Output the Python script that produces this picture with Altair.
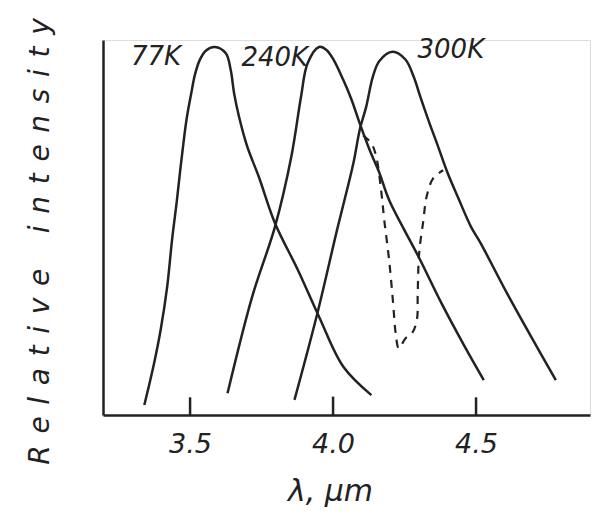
import altair as alt
import pandas as pd

# 77 K
x77 = [3.340, 3.374, 3.397, 3.420, 3.437, 3.454, 3.466, 3.477, 3.488, 3.505, 3.517, 3.534, 3.555, 3.586, 3.625, 3.642, 3.654, 3.671, 3.700, 3.740, 3.797, 3.877, 3.951, 4.036, 4.134]
y77 = [0.027, 0.140, 0.231, 0.349, 0.476, 0.584, 0.668, 0.740, 0.805, 0.878, 0.925, 0.965, 0.990, 1.000, 0.983, 0.938, 0.874, 0.811, 0.729, 0.648, 0.521, 0.394, 0.267, 0.131, 0.054]
# 240 K
x240 = [3.631, 3.717, 3.797, 3.854, 3.888, 3.911, 3.951, 3.977, 4.002, 4.036, 4.065, 4.093, 4.128, 4.162, 4.196, 4.299, 4.379, 4.459, 4.527]
y240 = [0.059, 0.321, 0.512, 0.702, 0.865, 0.956, 1.000, 0.992, 0.965, 0.910, 0.856, 0.793, 0.720, 0.658, 0.584, 0.430, 0.304, 0.188, 0.095]
# 300 K
x300 = [3.865, 3.945, 4.014, 4.071, 4.093, 4.116, 4.139, 4.162, 4.208, 4.253, 4.282, 4.305, 4.333, 4.367, 4.401, 4.436, 4.482, 4.516, 4.608, 4.699, 4.779]
y300 = [0.041, 0.276, 0.503, 0.684, 0.774, 0.838, 0.919, 0.962, 0.987, 0.966, 0.919, 0.865, 0.802, 0.730, 0.657, 0.593, 0.512, 0.467, 0.331, 0.204, 0.095]
# dashed (absorption dip)
xd = [4.105, 4.134, 4.151, 4.168, 4.179, 4.196, 4.210, 4.219, 4.230, 4.253, 4.276, 4.293, 4.296, 4.301, 4.316, 4.327, 4.350, 4.385]
yd = [0.760, 0.738, 0.702, 0.611, 0.530, 0.421, 0.304, 0.222, 0.181, 0.208, 0.222, 0.258, 0.331, 0.439, 0.530, 0.593, 0.643, 0.665]

label_text = ["77K", "240K", "300K"]
label_x = [3.381, 3.796, 4.412]
label_y = [0.973, 0.970, 0.992]

tick_vals = [3.5, 4.0, 4.5]
tick_top = [0.048, 0.050, 0.048]

rows = []
for name, xs_, ys_ in [("77K", x77, y77), ("240K", x240, y240), ("300K", x300, y300)]:
    for a, b in zip(xs_, ys_):
        rows.append({"lam": a, "I": b, "series": name})
solid = pd.DataFrame(rows)
dashed = pd.DataFrame({"lam": xd, "I": yd})
labels = pd.DataFrame({"t": label_text, "lam": label_x, "I": label_y})
ticks = pd.DataFrame({"lam": tick_vals, "lo": [0.0] * len(tick_vals), "hi": tick_top})

FONT = "DejaVu Sans"
INK = "#222222"
SEP = "\u00a0\u200a"
ytitle = SEP.join("Relative") + "\u00a0" * 4 + SEP.join("intensity")

xs = alt.Scale(domain=[3.213, 4.881], nice=False, zero=False)
ys = alt.Scale(domain=[0, 1.019], nice=False, zero=True)

xaxis = alt.Axis(
    values=tick_vals, format=".1f", tickSize=0, grid=False,
    domainColor=INK, domainWidth=2.5, labelFont=FONT, labelFontSize=27,
    labelFontStyle="italic", labelColor=INK, labelPadding=16,
    title="λ, µm", titleFont=FONT, titleFontSize=30, titleFontStyle="italic",
    titleFontWeight="normal", titleColor=INK, titleX=227, titleY=76,
    titleBaseline="middle", titleAnchor="middle",
)
yaxis = alt.Axis(
    labels=False, ticks=False, grid=False, domainColor=INK, domainWidth=2.5,
    title=ytitle, titleFont=FONT, titleFontSize=28,
    titleFontStyle="italic", titleFontWeight="normal", titleColor=INK,
    titleX=-63, titleY=201, titleAngle=-90, titleBaseline="middle", titleAnchor="middle",
)

curves = alt.Chart(solid).mark_line(
    color=INK, strokeWidth=2.5, interpolate="catmull-rom"
).encode(
    x=alt.X("lam:Q", scale=xs, axis=xaxis),
    y=alt.Y("I:Q", scale=ys, axis=yaxis),
    detail="series:N",
)

dash = alt.Chart(dashed).mark_line(
    color=INK, strokeWidth=2.2, strokeDash=[8, 7], interpolate="catmull-rom"
).encode(x=alt.X("lam:Q", scale=xs), y=alt.Y("I:Q", scale=ys))

tick_bars = alt.Chart(ticks).mark_bar(
    color=INK, size=2.5, opacity=1
).encode(
    x=alt.X("lam:Q", scale=xs),
    y=alt.Y("lo:Q", scale=ys),
    y2="hi:Q",
)

text = alt.Chart(labels).mark_text(
    font=FONT, fontSize=26, fontStyle="italic", color=INK, align="center", baseline="middle"
).encode(x=alt.X("lam:Q", scale=xs), y=alt.Y("I:Q", scale=ys), text="t:N")

chart = alt.layer(curves, dash, text, tick_bars).properties(
    width=487, height=375,
    autosize=alt.AutoSizeParams(type="none"),
    padding={"left": 95, "top": 32, "right": 1, "bottom": 94},
).configure_view(stroke=None).configure(background="white")

chart.save("out.html", embed_options={"renderer": "svg", "actions": False})
